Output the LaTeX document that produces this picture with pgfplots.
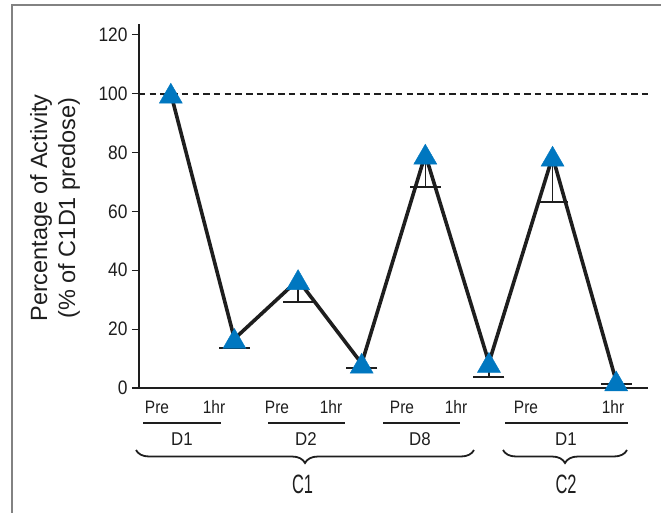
\documentclass[border=0pt]{standalone}
\usepackage{fontspec}
\setmainfont{Liberation Sans}
\newfontfamily\condT[FakeStretch=0.89]{Liberation Sans}
\newfontfamily\condL[FakeStretch=0.86]{Liberation Sans}
\newfontfamily\condD[FakeStretch=0.91]{Liberation Sans}
\newfontfamily\condC[FakeStretch=0.62]{Liberation Sans}
\usepackage{pgfplots}
\pgfplotsset{compat=1.18}
\usetikzlibrary{decorations.pathreplacing}
\definecolor{triblue}{RGB}{0,119,192}
\definecolor{ink}{RGB}{30,30,30}
\definecolor{framegray}{RGB}{130,130,130}

\pgfplotstableread{
x y em
0 100 0
1 16.7 3.0
2 36.7 7.5
3 8.3 1.6
4 79.3 11.0
5 8.6 4.9
6 78.6 15.4
7 2.3 1.1
}\datatab

\begin{document}
\begin{tikzpicture}[x=1pt,y=1pt]
\begin{axis}[
 at={(0,0)}, anchor=south west,
 scale only axis, width=509pt, height=364pt,
 xmin=-0.5, xmax=7.5, ymin=0, ymax=123.6,
 axis x line*=bottom, axis y line*=left,
 axis line style={ink, line width=1.6pt, -},
 xtick=\empty,
 ytick={0,20,...,120},
 tick align=outside, major tick length=7pt,
 tick style={ink, line width=1.2pt},
 y tick label style={font=\condT\fontsize{19.5}{19.5}\selectfont, text=ink, xshift=-1pt},
 /pgf/number format/assume math mode=true,
 clip=false,
]
\addplot[ink, line width=2pt, dash pattern=on 6.5pt off 4.2pt] coordinates {(-0.5,100) (7.53,100)};
\addplot[only marks, mark=triangle*, mark size=13.3pt, mark options={yshift=-3pt, draw=triblue, fill=triblue}] table[x=x, y=y] {\datatab};
\addplot[ink, line width=3.6pt, mark=none] table[x=x, y=y] {\datatab};
\addplot[draw=none, mark=none,
  error bars/.cd, y dir=minus, y explicit,
  error mark=-,
  error mark options={rotate=90, mark size=15.5pt, line width=2pt, draw=ink},
  error bar style={line width=1.6pt, draw=ink}]
  table[x=x, y=y, y error minus=em] {
x y em
1 16.7 3.0
2 36.7 7.5
3 8.3 1.6
4 79.3 11.0
5 8.6 4.9
6 78.6 15.4
7 2.3 1.1
};
\end{axis}

% y label
\node[rotate=90, align=center, font=\fontsize{23.5}{28}\selectfont, text=ink] at ({55-139},{388-208}) {Percentage of Activity\\(\% of C1D1 predose)};

% x annotations
\foreach \xx/\lbl in {157/Pre, 214/1hr, 277/Pre, 331/1hr, 402/Pre, 456/1hr, 526/Pre, 613/1hr}
  \node[anchor=base, inner sep=0pt, font=\condL\fontsize{18}{18}\selectfont, text=ink] at ({\xx-139},{388-413.3}) {\lbl};
\foreach \a/\b in {143/221, 268/345, 383/460, 505/628}
  \draw[ink, line width=1.8pt] ({\a-139},{388-423}) -- ({\b-139},{388-423});
\foreach \xx/\lbl in {182/D1, 306/D2, 420/D8, 566/D1}
  \node[anchor=base, inner sep=0pt, font=\condD\fontsize{18.5}{18.5}\selectfont, text=ink] at ({\xx-139},{388-445}) {\lbl};
\foreach \a/\b in {136/474, 503/627}
  \draw[ink, line width=1.8pt, decorate, decoration={brace, mirror, amplitude=13pt}] ({\a-139},{388-450}) -- ({\b-139},{388-450});
\foreach \xx/\lbl in {302.5/C1, 566/C2}
  \node[anchor=base, inner sep=0pt, font=\condC\fontsize{26.5}{26.5}\selectfont, text=ink] at ({\xx-139},{388-493}) {\lbl};

% frame
\draw[framegray, line width=1.5pt] ({12-139},-130) -- ({12-139},{388-5}) -- (530,{388-5});

\pgfresetboundingbox
\path[use as bounding box] (-139,-124) rectangle (522,388);
\end{tikzpicture}
\end{document}
